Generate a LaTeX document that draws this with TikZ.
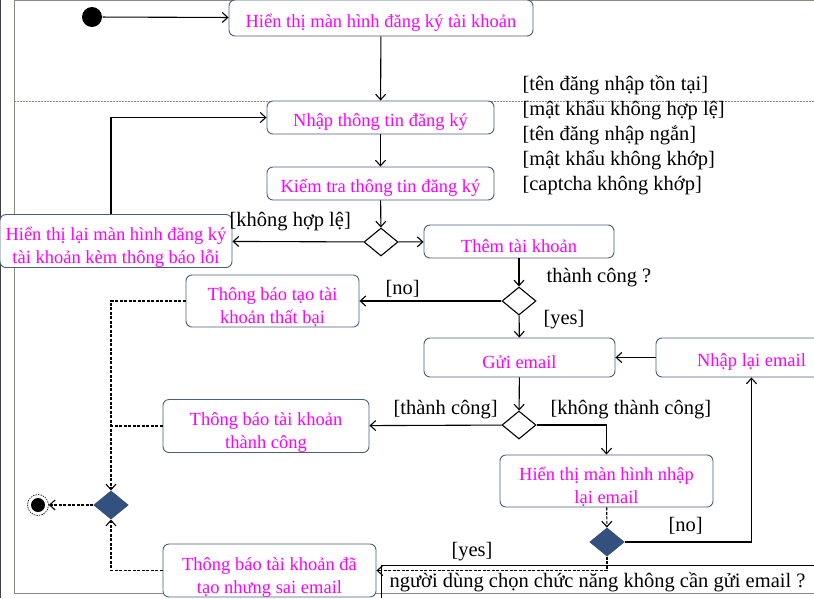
\documentclass[tikz,border=0pt]{standalone}
\usepackage{fontspec}
\setmainfont{Liberation Serif}
\usetikzlibrary{arrows.meta, shapes.geometric}
\usepackage{xcolor}
\definecolor{boxline}{HTML}{4A5F80}
\definecolor{decfill}{HTML}{34507C}
\definecolor{msg}{HTML}{FF00FF}
\definecolor{frame}{HTML}{8A8A80}

\begin{document}
\begin{tikzpicture}[
x=1pt, y=-1pt,
>={Straight Barb[length=5.5pt,width=10pt]},
line width=1.1pt,
act/.style={draw=boxline, fill=white, rounded corners=6pt, text=msg, align=center,
  inner sep=0pt, line width=0.9pt, font=\fontsize{18.5}{23}\selectfont,
  execute at begin node={\rule{0pt}{#1}}},
act/.default=22pt,
dec/.style={diamond, draw, fill=white, minimum width=34pt, minimum height=28pt, inner sep=0pt},
decdark/.style={dec, draw=decfill, fill=decfill},
guard/.style={font=\fontsize{20.5}{25}\selectfont, inner sep=0pt},
dashline/.style={dash pattern=on 3pt off 1.5pt},
]
\clip (0,0) rectangle (814,598);
% frame
\draw[frame, line width=0.7pt] (14,0.5) -- (814,0.5);
\draw[frame, line width=0.7pt] (14,0) -- (14,593) -- (814,593);
\draw[black!75, line width=2pt] (0,0) -- (0,598);
\draw[frame, line width=0.5pt, dash pattern=on 2pt off 1pt] (14,101) -- (814,101);
\draw[line width=0.6pt] (381,598) -- (381,565) -- (814,565);

% nodes
\node[circle, fill=black, minimum size=20pt, inner sep=0pt] (start) at (92,17) {};
\node[act, minimum width=304pt, minimum height=36pt] (show) at (381,18) {Hiển thị màn hình đăng ký tài khoản};
\node[act, minimum width=227pt, minimum height=33pt] (input) at (380.5,117.5) {Nhập thông tin đăng ký};
\node[act, minimum width=227pt, minimum height=33pt] (check) at (380.5,183.5) {Kiểm tra thông tin đăng ký};
\node[dec] (d1) at (381,242) {};
\node[act=49pt, minimum width=232pt, minimum height=48pt] (err) at (116,241) {Hiển thị lại màn hình đăng ký\\tài khoản kèm thông báo lỗi};
\node[act, minimum width=190pt, minimum height=33pt] (add) at (519,241.5) {Thêm tài khoản};
\node[dec] (d2) at (519,301) {};
\node[act=49pt, minimum width=173pt, minimum height=48pt] (fail) at (272.5,301) {Thông báo tạo tài\\khoản thất bại};
\node[act, minimum width=191pt, minimum height=39pt] (send) at (519.5,357.5) {Gửi email};
\node[act, minimum width=191pt, minimum height=39pt] (reenter) at (751.5,357.5) {Nhập lại email};
\node[dec] (d3) at (519,425) {};
\node[act=49pt, minimum width=206pt, minimum height=48pt] (ok) at (266,426) {Thông báo tài khoản\\thành công};
\node[act=49pt, minimum width=213pt, minimum height=48pt] (again) at (606.5,481) {Hiển thị màn hình nhập\\lại email};
\node[decdark] (d4) at (607,542) {};
\node[act=49pt, minimum width=213pt, minimum height=49pt] (wrong) at (269.5,570.5) {Thông báo tài khoản đã\\tạo nhưng sai email};
\node[decdark] (merge) at (111,505) {};
\node[circle, draw, dash pattern=on 1.5pt off 1pt, line width=0.6pt, minimum size=21pt, inner sep=0pt,
  path picture={\fill (path picture bounding box.center) circle (7pt);}] (stop) at (38,505) {};

% labels
\node[guard, anchor=west] (invalid) at (229,222) {[không hợp lệ]};
\node[guard, anchor=west, align=left] (reasons) at (522,135) {{[tên đăng nhập tồn tại]}\\{[mật khẩu không hợp lệ]}\\{[tên đăng nhập ngắn]}\\{[mật khẩu không khớp]}\\{[captcha không khớp]}};
\node[guard, anchor=west] (success) at (546,278) {thành công ?};
\node[guard, anchor=west] (no1) at (385,289) {[no]};
\node[guard, anchor=west] (yes1) at (543,320) {[yes]};
\node[guard, anchor=west] (sent) at (393,410) {[thành công]};
\node[guard, anchor=west] (notsent) at (550,410) {[không thành công]};
\node[guard, anchor=west] (no2) at (668,526) {[no]};
\node[guard, anchor=west] (yes2) at (451,552) {[yes]};
\node[guard, anchor=west] (question) at (389,582) {người dùng chọn chức năng không cần gửi email ?};

% arrows
\draw[->] (start) -- (show);
\draw[->] (show) -- (input);
\draw[->] (input) -- (check);
\draw[->] (check) -- (d1);
\draw[->] (d1) -- (err);
\draw[->] ([xshift=-5pt]err.north) |- (input);
\draw[->] (d1) -- (add);
\draw[->] (add) -- (d2);
\draw[->] (d2) -- (fail);
\draw[->] (d2) -- (send);
\draw[->] (reenter) -- (send);
\draw[->] (send) -- (d3);
\draw[->] (d3) -- (ok);
\draw[->] (d3.east) -| (again.north);
\draw[->, dashline] (again) -- (d4);
\draw[->] (d4.east) -| (reenter.south);
\draw[->, dashline] (d4.south) |- (wrong.east);
\draw[->, dashline] (fail.west) -| (merge.north);
\draw[dashline] (ok.west) -- (ok.west -| merge);
\draw[->, dashline] (wrong.west) -| (merge.south);
\draw[->, dashline] (merge) -- (stop);
\end{tikzpicture}
\end{document}
